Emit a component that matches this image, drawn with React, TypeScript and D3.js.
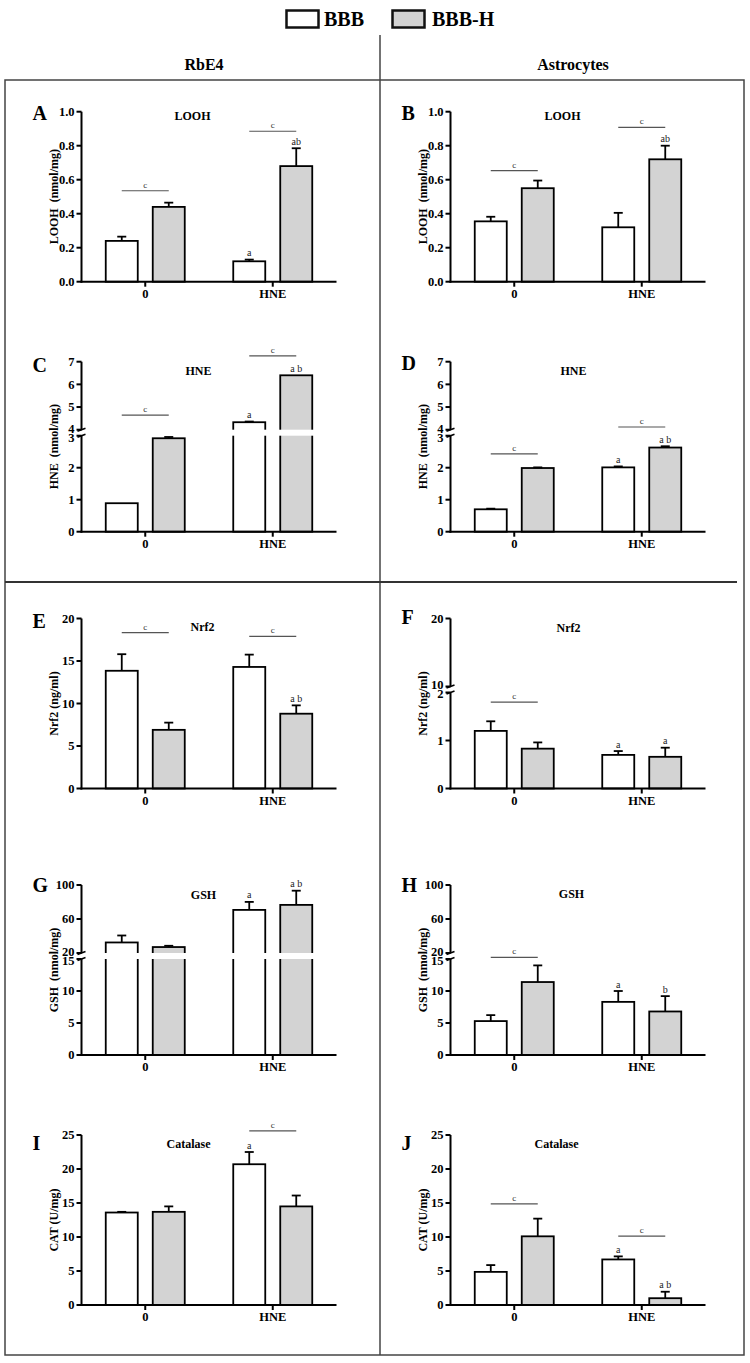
import React from "react";
import * as d3 from "d3";

const W = 750;
const H = 1363;
const FONT = "'Liberation Serif', 'Times New Roman', Times, serif";

// ---------- categories / series ----------
const groupLabels = ["0", "HNE"];
const seriesNames = ["BBB", "BBB-H"];
const seriesFill = ["#ffffff", "#d3d3d3"];

// ---------- A: LOOH, RbE4 ----------
const A_mean_BBB = [0.24, 0.12];
const A_mean_BBBH = [0.44, 0.68];
const A_err_BBB = [0.025, 0.01];
const A_err_BBBH = [0.025, 0.105];
const A_letters_BBB = ["", "a"];
const A_letters_BBBH = ["", "ab"];
const A_sig = [0.535, 0.885];

// ---------- B: LOOH, Astrocytes ----------
const B_mean_BBB = [0.355, 0.32];
const B_mean_BBBH = [0.55, 0.72];
const B_err_BBB = [0.027, 0.085];
const B_err_BBBH = [0.045, 0.08];
const B_letters_BBB = ["", ""];
const B_letters_BBBH = ["", "ab"];
const B_sig = [0.653, 0.908];

// ---------- C: HNE, RbE4 ----------
const C_mean_BBB = [0.89, 4.33];
const C_mean_BBBH = [2.92, 6.4];
const C_err_BBB = [0, 0.03];
const C_err_BBBH = [0.04, 0];
const C_letters_BBB = ["", "a"];
const C_letters_BBBH = ["", "a b"];
const C_sig = [4.64, 7.26];

// ---------- D: HNE, Astrocytes ----------
const D_mean_BBB = [0.7, 2.01];
const D_mean_BBBH = [1.99, 2.63];
const D_err_BBB = [0.02, 0.03];
const D_err_BBBH = [0.02, 0.04];
const D_letters_BBB = ["", "a"];
const D_letters_BBBH = ["", "a b"];
const D_sig = [2.43, 4.12];

// ---------- E: Nrf2, RbE4 ----------
const E_mean_BBB = [13.85, 14.3];
const E_mean_BBBH = [6.9, 8.8];
const E_err_BBB = [1.95, 1.45];
const E_err_BBBH = [0.85, 0.98];
const E_letters_BBB = ["", ""];
const E_letters_BBBH = ["", "a b"];
const E_sig = [18.35, 17.9];

// ---------- F: Nrf2, Astrocytes ----------
const F_mean_BBB = [1.2, 0.7];
const F_mean_BBBH = [0.83, 0.66];
const F_err_BBB = [0.2, 0.08];
const F_err_BBBH = [0.13, 0.19];
const F_letters_BBB = ["", "a"];
const F_letters_BBBH = ["", "a"];
const F_sig = [1.8, null];

// ---------- G: GSH, RbE4 ----------
const G_mean_BBB = [32.4, 70.7];
const G_mean_BBBH = [27.0, 76.6];
const G_err_BBB = [8.2, 9.4];
const G_err_BBBH = [1.5, 16.7];
const G_letters_BBB = ["", "a"];
const G_letters_BBBH = ["", "a b"];
const G_sig = [null, null];

// ---------- H: GSH, Astrocytes ----------
const H_mean_BBB = [5.3, 8.3];
const H_mean_BBBH = [11.4, 6.8];
const H_err_BBB = [0.93, 1.7];
const H_err_BBBH = [2.6, 2.4];
const H_letters_BBB = ["", "a"];
const H_letters_BBBH = ["", "b"];
const H_sig = [16.3, null];

// ---------- I: Catalase, RbE4 ----------
const I_mean_BBB = [13.6, 20.7];
const I_mean_BBBH = [13.7, 14.5];
const I_err_BBB = [0.1, 1.8];
const I_err_BBBH = [0.8, 1.6];
const I_letters_BBB = ["", "a"];
const I_letters_BBBH = ["", ""];
const I_sig = [null, 25.6];

// ---------- J: Catalase, Astrocytes ----------
const J_mean_BBB = [4.87, 6.7];
const J_mean_BBBH = [10.1, 1.0];
const J_err_BBB = [1.0, 0.45];
const J_err_BBBH = [2.6, 0.95];
const J_letters_BBB = ["", "a"];
const J_letters_BBBH = ["", "a b"];
const J_sig = [14.87, 10.13];

// ---------- axis definitions ----------
const looHDomain = [0, 1];
const looHTicks = [0, 0.2, 0.4, 0.6, 0.8, 1.0];
const hneDomain = [0, 3, 4, 7];
const hneTicks = [0, 1, 2, 3, 4, 5, 6, 7];
const nrfRbDomain = [0, 20];
const nrfRbTicks = [0, 5, 10, 15, 20];
const nrfAsDomain = [0, 2, 10, 20];
const nrfAsTicks = [0, 1, 2, 10, 20];
const gshDomain = [0, 15, 20, 100];
const gshTicks = [0, 5, 10, 15, 20, 60, 100];
const catDomain = [0, 25];
const catTicks = [0, 5, 10, 15, 20, 25];

// ---------- layout ----------
const colAxisX = [81.5, 450.5];
const rowTop = [111.7, 361.7, 618.5, 885, 1135];
const plotW = 255;
const plotH = 170;
const lowerH = 96;
const gapH = 6;

type PanelSpec = {
  letter: string;
  col: number;
  row: number;
  title: string;
  yTitle: string;
  mean: number[][];
  err: number[][];
  letters: string[][];
  sig: (number | null)[];
  domain: number[];
  ticks: number[];
  fmt: string;
  titleDx: number;
  titleDy: number;
  letterDy: number;
};

const panels: PanelSpec[] = [
  { letter: "A", col: 0, row: 0, title: "LOOH", yTitle: "LOOH  (nmol/mg)", mean: [A_mean_BBB, A_mean_BBBH], err: [A_err_BBB, A_err_BBBH], letters: [A_letters_BBB, A_letters_BBBH], sig: A_sig, domain: looHDomain, ticks: looHTicks, fmt: ".1f", titleDx: 111, titleDy: 4, letterDy: 8 },
  { letter: "B", col: 1, row: 0, title: "LOOH", yTitle: "LOOH  (nmol/mg)", mean: [B_mean_BBB, B_mean_BBBH], err: [B_err_BBB, B_err_BBBH], letters: [B_letters_BBB, B_letters_BBBH], sig: B_sig, domain: looHDomain, ticks: looHTicks, fmt: ".1f", titleDx: 112, titleDy: 4, letterDy: 8 },
  { letter: "C", col: 0, row: 1, title: "HNE", yTitle: "HNE  (nmol/mg)", mean: [C_mean_BBB, C_mean_BBBH], err: [C_err_BBB, C_err_BBBH], letters: [C_letters_BBB, C_letters_BBBH], sig: C_sig, domain: hneDomain, ticks: hneTicks, fmt: "d", titleDx: 117, titleDy: 9, letterDy: 10 },
  { letter: "D", col: 1, row: 1, title: "HNE", yTitle: "HNE  (nmol/mg)", mean: [D_mean_BBB, D_mean_BBBH], err: [D_err_BBB, D_err_BBBH], letters: [D_letters_BBB, D_letters_BBBH], sig: D_sig, domain: hneDomain, ticks: hneTicks, fmt: "d", titleDx: 123, titleDy: 9, letterDy: 8 },
  { letter: "E", col: 0, row: 2, title: "Nrf2", yTitle: "Nrf2 (ng/ml)", mean: [E_mean_BBB, E_mean_BBBH], err: [E_err_BBB, E_err_BBBH], letters: [E_letters_BBB, E_letters_BBBH], sig: E_sig, domain: nrfRbDomain, ticks: nrfRbTicks, fmt: "d", titleDx: 121, titleDy: 8.5, letterDy: 9.5 },
  { letter: "F", col: 1, row: 2, title: "Nrf2", yTitle: "Nrf2 (ng/ml)", mean: [F_mean_BBB, F_mean_BBBH], err: [F_err_BBB, F_err_BBBH], letters: [F_letters_BBB, F_letters_BBBH], sig: F_sig, domain: nrfAsDomain, ticks: nrfAsTicks, fmt: "d", titleDx: 118, titleDy: 9, letterDy: 5 },
  { letter: "G", col: 0, row: 3, title: "GSH", yTitle: "GSH  (nmol/mg)", mean: [G_mean_BBB, G_mean_BBBH], err: [G_err_BBB, G_err_BBBH], letters: [G_letters_BBB, G_letters_BBBH], sig: G_sig, domain: gshDomain, ticks: gshTicks, fmt: "d", titleDx: 122, titleDy: 10, letterDy: 6.5 },
  { letter: "H", col: 1, row: 3, title: "GSH", yTitle: "GSH  (nmol/mg)", mean: [H_mean_BBB, H_mean_BBBH], err: [H_err_BBB, H_err_BBBH], letters: [H_letters_BBB, H_letters_BBBH], sig: H_sig, domain: gshDomain, ticks: gshTicks, fmt: "d", titleDx: 121, titleDy: 9, letterDy: 6.5 },
  { letter: "I", col: 0, row: 4, title: "Catalase", yTitle: "CAT (U/mg)", mean: [I_mean_BBB, I_mean_BBBH], err: [I_err_BBB, I_err_BBBH], letters: [I_letters_BBB, I_letters_BBBH], sig: I_sig, domain: catDomain, ticks: catTicks, fmt: "d", titleDx: 107, titleDy: 9, letterDy: 14.5 },
  { letter: "J", col: 1, row: 4, title: "Catalase", yTitle: "CAT (U/mg)", mean: [J_mean_BBB, J_mean_BBBH], err: [J_err_BBB, J_err_BBBH], letters: [J_letters_BBB, J_letters_BBBH], sig: J_sig, domain: catDomain, ticks: catTicks, fmt: "d", titleDx: 106, titleDy: 9, letterDy: 14.5 },
];

function Panel({ p }: { p: PanelSpec }) {
  const ax = colAxisX[p.col];
  const top = rowTop[p.row];
  const bottom = top + plotH;
  const broken = p.domain.length === 4;
  const y = broken
    ? d3.scaleLinear().domain(p.domain).range([bottom, bottom - lowerH, bottom - lowerH - gapH, top])
    : d3.scaleLinear().domain(p.domain).range([bottom, top]);
  const xg = d3.scaleBand<string>().domain(groupLabels).range([ax, ax + plotW]);
  const xs = d3.scaleBand<string>().domain(seriesNames).range([-39.5, 39.5]).paddingInner(0.319);
  const fmt = d3.format(p.fmt);
  const bw = xs.bandwidth();
  const yLowTop = bottom - lowerH;
  const yUpBot = bottom - lowerH - gapH;

  const bars: React.ReactNode[] = [];
  const gaps: React.ReactNode[] = [];
  const errs: React.ReactNode[] = [];
  const lets: React.ReactNode[] = [];
  groupLabels.forEach((g, gi) => {
    const cx = (xg(g) as number) + xg.bandwidth() / 2;
    seriesNames.forEach((s, si) => {
      const v = p.mean[si][gi];
      const e = p.err[si][gi];
      const bx = cx + (xs(s) as number);
      const yt = y(v);
      bars.push(
        <rect key={`b${g}${s}`} x={bx} y={yt} width={bw} height={bottom - yt}
          fill={seriesFill[si]} stroke="#000" strokeWidth={1.8} />
      );
      if (broken && v > p.domain[1]) {
        gaps.push(
          <rect key={`g${g}${s}`} x={bx - 2} y={yUpBot} width={bw + 4} height={yLowTop - yUpBot} fill="#fff" />
        );
      }
      const ye = y(v + e);
      if (e > 0) {
        errs.push(
          <g key={`e${g}${s}`} stroke="#000" strokeWidth={1.8}>
            <line x1={bx + bw / 2} x2={bx + bw / 2} y1={yt} y2={ye} />
            <line x1={bx + bw / 2 - 4.5} x2={bx + bw / 2 + 4.5} y1={ye} y2={ye} />
          </g>
        );
      }
      const lt = p.letters[si][gi];
      if (lt) {
        lets.push(
          <text key={`l${g}${s}`} x={bx + bw / 2} y={ye - 3.5} textAnchor="middle"
            fontSize={10} fill="#222" fontFamily={FONT}>{lt}</text>
        );
      }
    });
  });

  const sigs = groupLabels.map((g, gi) => {
    const lv = p.sig[gi];
    if (lv === null || lv === undefined) return null;
    const cx = (xg(g) as number) + xg.bandwidth() / 2;
    const yy = y(lv);
    return (
      <g key={`s${g}`}>
        <line x1={cx - 23.5} x2={cx + 23.5} y1={yy} y2={yy} stroke="#555" strokeWidth={1.2} />
        <text x={cx} y={yy - 3} textAnchor="middle" fontSize={9} fill="#333" fontFamily={FONT}>c</text>
      </g>
    );
  });

  const axisSegs = broken
    ? [[bottom, yLowTop], [yUpBot, top]]
    : [[bottom, top]];

  const labelNudge = (t: number) => {
    if (!broken) return 0;
    if (t === p.domain[1]) return 1.5;
    if (t === p.domain[2]) return -1.5;
    return 0;
  };

  return (
    <g>
      {bars}
      {gaps}
      {errs}
      {lets}
      {sigs}
      {/* y axis */}
      {axisSegs.map((sg, i) => (
        <line key={`ax${i}`} x1={ax} x2={ax} y1={sg[0] + (i === 0 ? 1 : 0)} y2={sg[1]} stroke="#000" strokeWidth={2} />
      ))}
      {broken && [yLowTop, yUpBot].map((yy, i) => (
        <line key={`bk${i}`} x1={ax - 4} x2={ax + 4} y1={yy + 1.5} y2={yy - 1.5} stroke="#000" strokeWidth={1.5} />
      ))}
      {p.ticks.map((t) => (
        <g key={`t${t}`}>
          <line x1={ax - 5} x2={ax} y1={y(t)} y2={y(t)} stroke="#000" strokeWidth={2} />
          <text x={ax - 7} y={y(t) + labelNudge(t)} dy="0.35em" textAnchor="end" fontSize={12.5}
            fontWeight="bold" fontFamily={FONT} fill="#000">{fmt(t)}</text>
        </g>
      ))}
      {/* x axis */}
      <line x1={ax - 1} x2={ax + plotW} y1={bottom} y2={bottom} stroke="#000" strokeWidth={2} />
      {groupLabels.map((g) => {
        const cx = (xg(g) as number) + xg.bandwidth() / 2;
        return (
          <g key={`xt${g}`}>
            <line x1={cx} x2={cx} y1={bottom} y2={bottom + 5} stroke="#000" strokeWidth={2} />
            <text x={cx} y={bottom + 16} textAnchor="middle" fontSize={12.5} fontWeight="bold"
              fontFamily={FONT} fill="#000">{g}</text>
          </g>
        );
      })}
      {/* titles */}
      <text x={ax + p.titleDx} y={top + p.titleDy + 4} textAnchor="middle" fontSize={12}
        fontWeight="bold" fontFamily={FONT} fill="#000">{p.title}</text>
      <text transform={`translate(${ax - 28},${top + plotH / 2}) rotate(-90)`} dy="0.35em"
        textAnchor="middle" fontSize={12} fontWeight="bold" fontFamily={FONT} fill="#000"
        style={{ whiteSpace: "pre" }}>{p.yTitle}</text>
      <text x={ax - 49} y={top + p.letterDy} fontSize={20} fontWeight="bold" fontFamily={FONT} fill="#000">{p.letter}</text>
    </g>
  );
}

export default function App() {
  return (
    <svg width={W} height={H} viewBox={`0 0 ${W} ${H}`}
      style={{ position: "absolute", left: 0, top: 0, background: "#fff" }}>
      <rect x={0} y={0} width={W} height={H} fill="#fff" />
      {/* legend */}
      {seriesNames.map((s, i) => {
        const lx = [286.5, 392.5][i];
        const tx = [324, 432][i];
        return (
          <g key={`lg${s}`}>
            <rect x={lx} y={10.5} width={32} height={17} fill={seriesFill[i]} stroke="#111" strokeWidth={2.5} />
            <text x={tx} y={26} fontSize={20} fontWeight="bold" fontFamily={FONT} fill="#000">{s}</text>
          </g>
        );
      })}
      {/* headers */}
      <text x={204} y={70} textAnchor="middle" fontSize={16} fontWeight="bold" fontFamily={FONT}>RbE4</text>
      <text x={573} y={70} textAnchor="middle" fontSize={16} fontWeight="bold" fontFamily={FONT}>Astrocytes</text>
      {/* frame */}
      <rect x={5} y={80} width={739} height={1275} fill="none" stroke="#444" strokeWidth={1.5} />
      <line x1={380} x2={380} y1={35} y2={1355} stroke="#444" strokeWidth={1.5} />
      <line x1={5} x2={737} y1={582} y2={582} stroke="#333" strokeWidth={1.8} />
      {panels.map((p) => <Panel key={p.letter} p={p} />)}
    </svg>
  );
}
